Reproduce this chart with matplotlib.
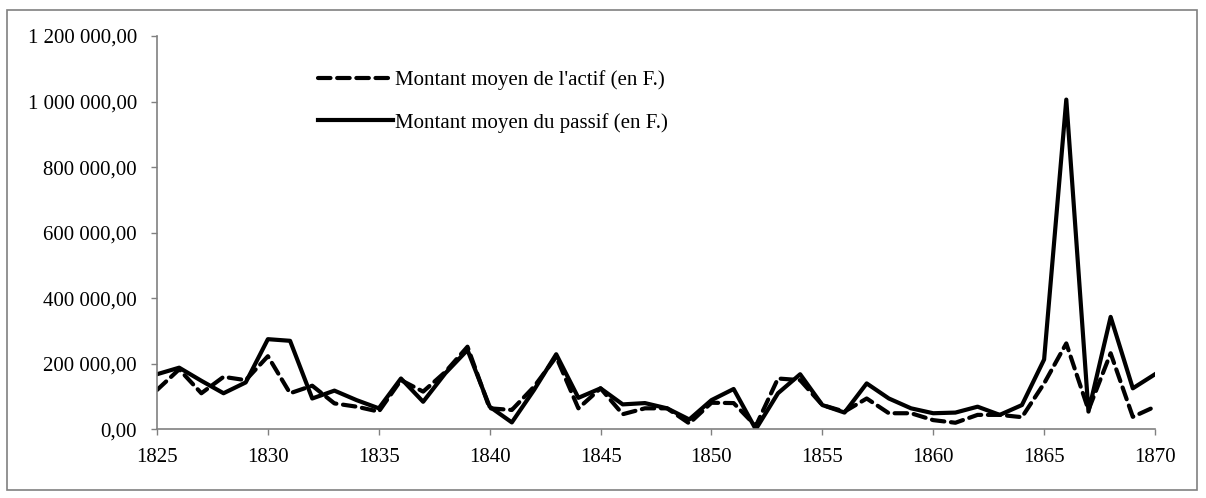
import matplotlib.pyplot as plt
from matplotlib.patches import Rectangle
from matplotlib.ticker import FuncFormatter

years = list(range(1825, 1871))

actif = [120000, 183000, 110000, 160000, 150000, 223000, 110000, 133000, 79000, 69000,
         54000, 150000, 115000, 175000, 252000, 64000, 59000, 130000, 221000, 64000,
         125000, 46000, 64000, 64000, 18000, 81000, 80000, 10000, 155000, 150000,
         74000, 54000, 94000, 49000, 49000, 28000, 20000, 44000, 44000, 37000,
         140000, 262000, 59000, 232000, 38000, 69000]

passif = [168000, 188000, 148000, 110000, 143000, 275000, 270000, 94000, 118000, 89000,
          64000, 155000, 84000, 171000, 242000, 69000, 21000, 120000, 229000, 96000,
          125000, 76000, 80000, 64000, 30000, 89000, 123000, 0, 110000, 168000,
          74000, 51000, 140000, 94000, 64000, 49000, 51000, 69000, 44000, 74000,
          213000, 1006000, 54000, 343000, 125000, 168000]

label_actif = "Montant moyen de l'actif (en F.)"
label_passif = "Montant moyen du passif (en F.)"

plt.rcParams['font.family'] = ['Liberation Serif', 'DejaVu Serif']

fig = plt.figure(figsize=(12.06, 4.98), dpi=100)
ax = fig.add_axes([157 / 1206, 1 - 429.3 / 498, (1155 - 157) / 1206, (429.3 - 36) / 498])

ax.plot(years, actif, color='black', lw=3, ls=(0, (3, 1.6)), dash_capstyle='round',
        label=label_actif)
ax.plot(years, passif, color='black', lw=3, label=label_passif)

ax.set_xlim(1825, 1870)
ax.set_ylim(0, 1200000)
ax.set_xticks(range(1825, 1871, 5))
ax.set_yticks(range(0, 1200001, 200000))

def fmt(v, pos):
    s = "{:,.2f}".format(v).replace(",", " ").replace(".", ",")
    return s

ax.yaxis.set_major_formatter(FuncFormatter(fmt))
ax.tick_params(labelsize=15, color='#808080', length=4.5, width=1)
ax.tick_params(axis='x', pad=9)
ax.tick_params(axis='y', pad=10)
for side in ['top', 'right']:
    ax.spines[side].set_visible(False)
for side in ['left', 'bottom']:
    ax.spines[side].set_color('#808080')
    ax.spines[side].set_linewidth(1.2)

leg = fig.legend(loc='upper left', bbox_to_anchor=(318 / 1206, 1 - 70 / 498),
                 bbox_transform=fig.transFigure, frameon=False, borderpad=0,
                 borderaxespad=0, fontsize=15, handlelength=3.6,
                 handletextpad=0.1, labelspacing=1.1)

fig.patches.append(Rectangle((7 / 1206, 8 / 498), 1190 / 1206, 480 / 498,
                             transform=fig.transFigure, fill=False,
                             edgecolor='#808080', lw=1.2))

fig.savefig('out.png', dpi=100)
